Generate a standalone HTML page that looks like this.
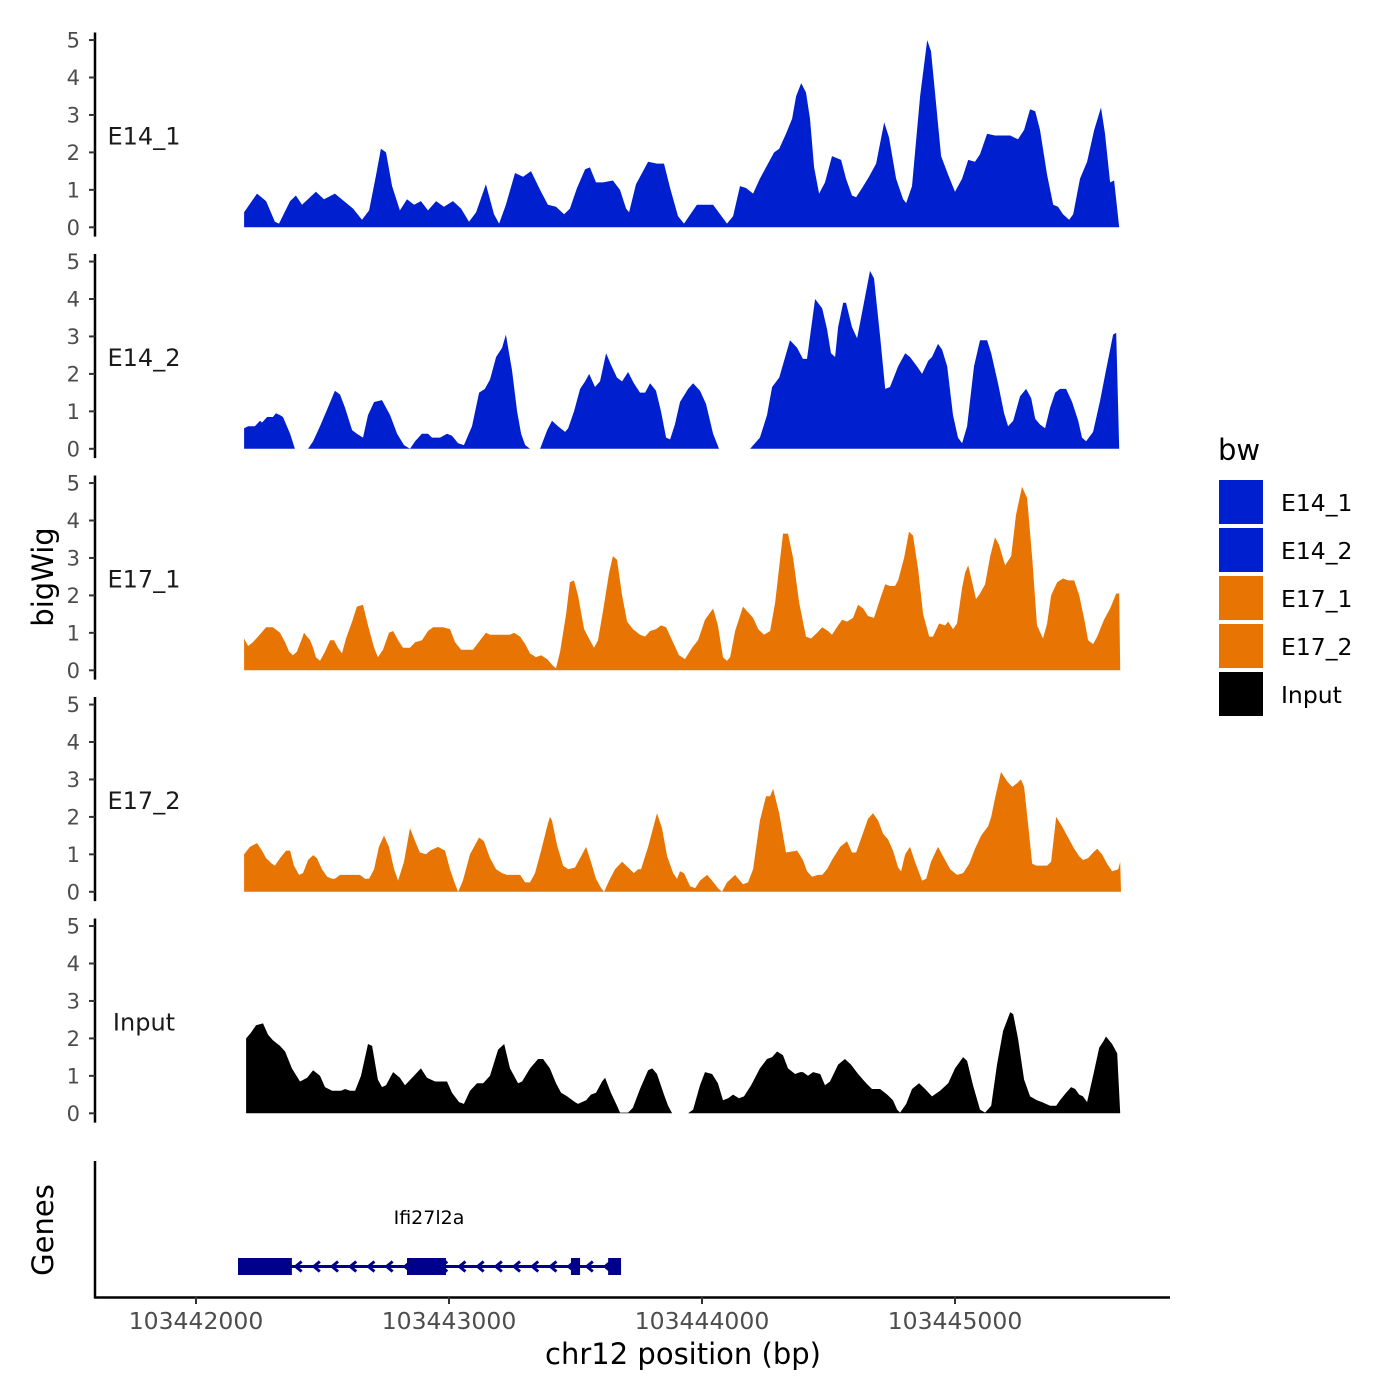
<!DOCTYPE html>
<html><head><meta charset="utf-8"><style>
html,body{margin:0;padding:0;background:#fff;}
svg{display:block;font-family:"DejaVu Sans","Liberation Sans",sans-serif;}
</style></head><body>
<svg id="chart" width="1400" height="1400" viewBox="0 0 1400 1400" xmlns="http://www.w3.org/2000/svg">
<rect x="0" y="0" width="1400" height="1400" fill="#fff"/>
<g id="tracks"></g>
<g id="genes"></g>
<g id="xaxis"></g>
<text x="0" y="0" transform="translate(53,577) rotate(-90)" text-anchor="middle" font-size="29" fill="#000">bigWig</text>
<text x="0" y="0" transform="translate(53,1230) rotate(-90)" text-anchor="middle" font-size="29" fill="#000">Genes</text>
<text x="683" y="1364" text-anchor="middle" font-size="29" fill="#000">chr12 position (bp)</text>
<g id="legend"></g>
</svg>
<script>
// ---- data ----
const chromStart = 103442000;
const xTicks = [103442000, 103443000, 103444000, 103445000];
const xTickLabels = ["103442000", "103443000", "103444000", "103445000"];
const yTicks = [0, 1, 2, 3, 4, 5];
const trackNames = ["E14_1", "E14_2", "E17_1", "E17_2", "Input"];
const legendNames = ["E14_1", "E14_2", "E17_1", "E17_2", "Input"];
const geneName = "Ifi27l2a";
const geneExonStarts = [166, 834, 1482, 1629];
const geneExonEnds = [379, 988, 1518, 1680];
const geneStart = 166;
const geneEnd = 1680;

// positions are bp offsets from chromStart; null values mark missing data
const e14_1Pos = [190,241,277,312,328,372,395,419,474,506,549,585,621,656,684,712,731,751,775,806,834,862,889,917,949,980,1016,1048,1079,1107,1146,1178,1198,1225,1261,1293,1324,1360,1391,1423,1455,1478,1506,1538,1557,1581,1609,1648,1676,1700,1712,1739,1787,1822,1850,1874,1905,1929,1980,2044,2099,2123,2150,2174,2202,2229,2257,2285,2305,2332,2356,2372,2392,2411,2427,2443,2463,2486,2514,2550,2569,2593,2609,2633,2660,2688,2720,2739,2767,2795,2807,2830,2862,2890,2905,2921,2945,2973,3000,3028,3052,3079,3099,3127,3158,3186,3218,3249,3273,3297,3317,3336,3364,3388,3407,3427,3451,3467,3494,3522,3550,3577,3593,3613,3629,3649];
const e14_1Val = [0.4,0.9,0.7,0.15,0.1,0.7,0.85,0.6,0.95,0.75,0.9,0.7,0.5,0.2,0.45,1.4,2.1,2.0,1.1,0.45,0.75,0.6,0.7,0.45,0.7,0.55,0.7,0.5,0.15,0.4,1.15,0.35,0.1,0.6,1.45,1.35,1.5,1.0,0.6,0.55,0.35,0.5,1.05,1.55,1.6,1.2,1.2,1.25,1.0,0.5,0.4,1.15,1.75,1.7,1.7,1.05,0.3,0.1,0.6,0.6,0.1,0.3,1.1,1.05,0.9,1.3,1.65,2.0,2.1,2.5,2.9,3.5,3.85,3.6,2.9,1.6,0.9,1.2,1.9,1.8,1.3,0.85,0.8,1.05,1.35,1.7,2.8,2.4,1.3,0.75,0.65,1.1,3.5,5.0,4.7,3.6,1.9,1.4,0.95,1.3,1.8,1.75,1.95,2.5,2.45,2.45,2.45,2.35,2.6,3.15,3.1,2.6,1.4,0.6,0.55,0.35,0.2,0.35,1.3,1.75,2.6,3.2,2.5,1.2,1.25,0];

const e14_2Pos = [190,206,233,253,261,281,304,316,332,344,372,391,417,443,463,490,518,549,569,589,617,636,660,680,704,735,767,795,822,846,866,893,917,933,965,992,1012,1036,1059,1091,1119,1142,1162,1186,1210,1225,1249,1269,1285,1301,1320,1340,1360,1388,1407,1431,1459,1471,1494,1518,1538,1554,1577,1597,1621,1640,1664,1684,1708,1731,1755,1775,1795,1818,1838,1858,1874,1893,1913,1945,1965,1992,2016,2044,2067,2130,2190,2229,2257,2277,2305,2348,2376,2399,2415,2447,2475,2494,2510,2526,2538,2558,2569,2593,2613,2637,2664,2680,2704,2724,2743,2775,2803,2822,2850,2870,2894,2909,2933,2949,2969,2992,3012,3028,3048,3075,3099,3127,3143,3170,3194,3210,3230,3257,3281,3301,3317,3336,3356,3376,3396,3415,3439,3463,3487,3502,3518,3546,3574,3597,3625,3637,3649];
const e14_2Val = [0.55,0.6,0.6,0.75,0.7,0.85,0.85,0.95,0.9,0.85,0.4,0,null,0,0.2,0.6,1.05,1.55,1.45,1.1,0.5,0.4,0.3,0.9,1.25,1.3,0.9,0.4,0.1,0.0,0.2,0.4,0.4,0.3,0.3,0.4,0.35,0.15,0.1,0.6,1.5,1.6,1.85,2.45,2.7,3.05,2.1,1.0,0.4,0.1,0,null,0,0.5,0.75,0.6,0.45,0.55,1.0,1.6,1.8,2.0,1.65,1.8,2.55,2.25,1.9,1.8,2.05,1.75,1.5,1.5,1.75,1.55,1.0,0.3,0.25,0.65,1.25,1.6,1.75,1.55,1.2,0.4,0,null,0,0.3,0.9,1.65,1.9,2.9,2.7,2.4,2.4,4.0,3.75,3.2,2.55,2.45,3.25,3.9,3.9,3.25,2.95,3.8,4.75,4.55,3.0,1.6,1.65,2.2,2.55,2.45,2.2,2.0,2.35,2.45,2.8,2.65,2.2,0.9,0.3,0.15,0.6,2.2,2.9,2.9,2.55,1.75,0.95,0.6,0.75,1.4,1.6,1.35,0.8,0.65,0.55,1.1,1.5,1.6,1.6,1.25,0.75,0.3,0.2,0.45,1.3,2.1,3.05,3.1,0];

const e17_1Pos = [190,206,225,245,277,304,332,352,368,383,399,419,427,451,463,474,490,510,530,546,561,577,593,617,636,660,680,704,719,739,763,779,799,818,846,866,893,917,937,957,976,1004,1024,1048,1075,1095,1123,1146,1162,1202,1241,1257,1281,1301,1320,1344,1364,1388,1407,1423,1439,1463,1478,1494,1510,1534,1557,1573,1589,1609,1633,1648,1664,1684,1704,1727,1755,1775,1795,1818,1838,1858,1882,1909,1933,1961,1984,2012,2044,2063,2083,2099,2111,2131,2162,2182,2202,2222,2245,2269,2289,2320,2340,2360,2384,2411,2431,2455,2475,2498,2514,2538,2554,2573,2597,2617,2637,2656,2680,2704,2724,2743,2763,2775,2799,2818,2834,2854,2874,2898,2913,2937,2961,2973,2992,3008,3028,3040,3052,3068,3083,3099,3119,3139,3158,3174,3198,3222,3241,3265,3285,3305,3324,3348,3364,3380,3404,3427,3447,3471,3491,3510,3526,3546,3562,3589,3613,3637,3649,3653];
const e17_1Val = [0.85,0.65,0.75,0.9,1.15,1.15,1.0,0.75,0.5,0.4,0.5,0.85,1.0,0.8,0.6,0.35,0.25,0.5,0.8,0.8,0.6,0.45,0.85,1.3,1.7,1.75,1.2,0.6,0.35,0.55,1.0,1.05,0.8,0.6,0.6,0.75,0.8,1.05,1.15,1.15,1.15,1.1,0.75,0.55,0.55,0.55,0.8,1.0,0.95,0.95,0.95,1.0,0.9,0.7,0.45,0.35,0.4,0.3,0.15,0.05,0.5,1.5,2.35,2.4,2.0,1.1,0.8,0.6,0.8,1.6,2.6,3.05,2.95,2.0,1.3,1.1,0.95,0.9,1.05,1.1,1.2,1.15,0.8,0.4,0.3,0.6,0.8,1.35,1.65,1.2,0.35,0.25,0.35,1.05,1.7,1.55,1.4,1.1,0.95,1.05,1.8,3.65,3.65,3.0,1.8,0.9,0.85,1.0,1.15,1.05,0.95,1.2,1.35,1.3,1.4,1.75,1.65,1.45,1.4,1.9,2.3,2.25,2.25,2.4,3.0,3.7,3.6,2.7,1.5,0.9,0.9,1.25,1.2,1.3,1.1,1.25,2.2,2.6,2.8,2.35,1.9,2.05,2.3,3.05,3.55,3.35,2.8,3.05,4.15,4.9,4.6,3.0,1.2,0.85,1.25,2.0,2.35,2.45,2.4,2.4,2.0,1.4,0.8,0.7,0.9,1.35,1.65,2.05,2.05,0];

const e17_2Pos = [190,213,241,261,277,300,312,332,356,372,387,407,423,443,463,478,498,518,538,549,569,589,648,668,684,704,723,743,763,783,799,822,846,866,885,909,925,957,984,1004,1024,1036,1055,1083,1119,1138,1162,1186,1210,1229,1281,1301,1320,1340,1364,1388,1399,1407,1427,1451,1471,1498,1522,1542,1561,1581,1601,1613,1633,1656,1684,1708,1731,1747,1759,1787,1822,1842,1862,1886,1901,1913,1929,1953,1973,1992,2020,2040,2063,2079,2099,2131,2162,2182,2202,2229,2253,2269,2281,2305,2332,2376,2399,2415,2435,2459,2475,2494,2514,2546,2573,2593,2609,2625,2656,2676,2696,2716,2735,2755,2775,2787,2803,2822,2842,2870,2886,2905,2933,2957,2981,3008,3032,3056,3079,3103,3131,3143,3158,3182,3206,3226,3245,3261,3273,3289,3305,3321,3364,3380,3400,3423,3447,3471,3491,3506,3526,3546,3562,3581,3601,3621,3645,3653,3656];
const e17_2Val = [1.0,1.2,1.3,1.1,0.9,0.75,0.7,0.9,1.1,1.1,0.7,0.45,0.5,0.85,0.98,0.9,0.6,0.4,0.35,0.35,0.45,0.45,0.45,0.35,0.35,0.6,1.2,1.5,1.2,0.6,0.3,0.8,1.7,1.35,1.05,1.0,1.1,1.2,1.1,0.6,0.2,0.0,0.3,1.0,1.45,1.35,0.9,0.6,0.5,0.45,0.45,0.25,0.25,0.5,1.1,1.75,2.0,1.9,1.25,0.7,0.6,0.65,0.95,1.2,0.8,0.35,0.1,0.0,0.3,0.6,0.8,0.65,0.5,0.6,0.6,1.2,2.1,1.7,0.95,0.5,0.35,0.55,0.5,0.15,0.1,0.3,0.45,0.3,0.1,0.0,0.25,0.45,0.2,0.25,0.6,1.9,2.55,2.55,2.75,2.1,1.05,1.1,0.85,0.55,0.4,0.45,0.45,0.6,0.85,1.2,1.35,1.05,1.05,1.35,1.95,2.1,1.9,1.55,1.4,1.1,0.65,0.55,1.0,1.2,0.8,0.3,0.35,0.8,1.2,0.9,0.6,0.45,0.5,0.75,1.15,1.5,1.75,2.0,2.5,3.2,2.95,2.8,2.9,3.0,2.8,1.8,0.75,0.7,0.7,0.8,2.0,1.75,1.45,1.15,0.95,0.85,0.9,1.05,1.15,1.0,0.75,0.55,0.6,0.8,0];

const inputPos = [198,217,237,265,285,304,332,352,379,411,439,463,490,510,538,573,589,609,629,652,680,696,719,735,751,779,806,826,854,889,913,945,992,1012,1040,1059,1083,1111,1135,1162,1194,1218,1241,1273,1289,1320,1352,1372,1399,1423,1443,1467,1498,1510,1542,1561,1581,1605,1617,1640,1664,1676,1708,1727,1755,1787,1803,1822,1850,1866,1882,1910,1945,1965,1992,2012,2040,2063,2083,2103,2123,2146,2166,2194,2229,2257,2277,2297,2320,2340,2368,2388,2399,2419,2439,2467,2486,2506,2538,2565,2589,2617,2649,2672,2704,2732,2755,2771,2783,2807,2830,2858,2882,2909,2941,2973,3000,3032,3048,3071,3099,3119,3143,3166,3190,3218,3230,3249,3273,3297,3324,3344,3376,3400,3415,3439,3459,3475,3491,3506,3522,3546,3570,3589,3597,3621,3641,3653];
const inputVal = [2.0,2.15,2.35,2.4,2.1,1.95,1.8,1.65,1.2,0.85,0.95,1.15,1.0,0.7,0.6,0.6,0.65,0.6,0.6,1.0,1.85,1.8,0.9,0.7,0.75,1.1,0.95,0.75,0.95,1.2,0.95,0.85,0.85,0.55,0.3,0.25,0.6,0.8,0.8,1.0,1.7,1.85,1.2,0.8,0.85,1.2,1.45,1.45,1.2,0.8,0.55,0.45,0.3,0.25,0.35,0.5,0.55,0.85,0.95,0.55,0.2,0.02,0.02,0.15,0.65,1.15,1.2,1.05,0.5,0.2,0.0,null,0.0,0.1,0.75,1.1,1.05,0.8,0.35,0.4,0.5,0.4,0.45,0.75,1.2,1.45,1.5,1.65,1.55,1.2,1.05,1.1,1.1,1.0,1.1,1.05,0.75,0.85,1.3,1.45,1.3,1.05,0.8,0.65,0.65,0.5,0.35,0.1,0.02,0.25,0.65,0.8,0.65,0.45,0.6,0.8,1.2,1.5,1.4,0.75,0.1,0.02,0.2,1.3,2.2,2.7,2.65,2.0,0.9,0.45,0.35,0.3,0.2,0.2,0.35,0.55,0.7,0.65,0.5,0.45,0.3,1.0,1.75,1.95,2.05,1.85,1.6,0];

const trackPositions = [e14_1Pos, e14_2Pos, e17_1Pos, e17_2Pos, inputPos];
const trackValues = [e14_1Val, e14_2Val, e17_1Val, e17_2Val, inputVal];
const trackColors = ["#0020CF", "#0020CF", "#E87503", "#E87503", "#000000"];

// ---- scales ----
const NS = "http://www.w3.org/2000/svg";
const X0 = 196, PX_PER_BP = 253 / 1000;
function xScale(bp) { return X0 + (bp - chromStart) * PX_PER_BP; }
function xOff(off) { return xScale(chromStart + off); }
const ZERO0 = 227.3, TRACK_STEP = 221.5, UNIT = 37.45;
function yScale(track, v) { return ZERO0 + track * TRACK_STEP - v * UNIT; }
function mk(tag, attrs, parent) {
  const el = document.createElementNS(NS, tag);
  for (const k in attrs) el.setAttribute(k, attrs[k]);
  parent.appendChild(el);
  return el;
}

// ---- tracks ----
const gT = document.getElementById("tracks");
trackNames.forEach((name, t) => {
  const g = mk("g", {}, gT);
  
  
  const pos = trackPositions[t], val = trackValues[t];
  const base = yScale(t, 0);
  let segs = [], cur = [];
  for (let i = 0; i < pos.length; i++) {
    if (val[i] === null) { if (cur.length) segs.push(cur); cur = []; }
    else cur.push([xOff(pos[i]), yScale(t, val[i])]);
  }
  if (cur.length) segs.push(cur);
  segs.forEach(s => {
    let d = "M" + s[0][0].toFixed(1) + "," + base.toFixed(1);
    s.forEach(p => { d += "L" + p[0].toFixed(1) + "," + p[1].toFixed(1); });
    d += "L" + s[s.length - 1][0].toFixed(1) + "," + base.toFixed(1) + "Z";
    const area = mk("path", { d: d, fill: trackColors[t] }, g);
    
    
  });
  const top = yScale(t, 5.2), bot = yScale(t, -0.25);
  const ax = mk("line", { x1: 95, x2: 95, y1: top, y2: bot, stroke: "#000", "stroke-width": 2.5 }, g);
  
  
  yTicks.forEach(v => {
    const y = yScale(t, v);
    const tk = mk("line", { x1: 89, x2: 95, y1: y, y2: y, stroke: "#333", "stroke-width": 2 }, g);
    
    
    const lb = mk("text", { x: 80, y: y + 7.5, "text-anchor": "end", "font-size": 21, fill: "#4d4d4d" }, g);
    lb.textContent = String(v);
    
    
  });
  const tl = mk("text", { x: 144, y: yScale(t, 2) - 8, "text-anchor": "middle", "font-size": 24, fill: "#1a1a1a" }, g);
  tl.textContent = name;
  
  
});

// ---- genes ----
const gG = document.getElementById("genes");
const gax = mk("line", { x1: 95, x2: 95, y1: 1161, y2: 1298, stroke: "#000", "stroke-width": 2.5 }, gG);


const gy = 1266.5;
const intron = mk("line", { x1: xOff(geneStart), x2: xOff(geneEnd), y1: gy, y2: gy, stroke: "#00008B", "stroke-width": 3 }, gG);


for (let x = xOff(geneEnd) - 14; x > xOff(geneStart) + 4; x -= 18.2) {
  const ch = mk("path", { d: "M" + (x + 4) + "," + (gy - 5) + "L" + (x - 2) + "," + gy + "L" + (x + 4) + "," + (gy + 5), fill: "none", stroke: "#00008B", "stroke-width": 3 }, gG);
  
  
}
geneExonStarts.forEach((s, i) => {
  const x1 = xOff(s), x2 = xOff(geneExonEnds[i]);
  const r = mk("rect", { x: x1, y: 1258, width: x2 - x1, height: 17, fill: "#00008B" }, gG);
  
  
});
const gl = mk("text", { x: 429, y: 1224, "text-anchor": "middle", "font-size": 19, fill: "#000" }, gG);
gl.textContent = geneName;



// ---- x axis ----
const gX = document.getElementById("xaxis");
const xl = mk("line", { x1: 94, x2: 1170, y1: 1297.5, y2: 1297.5, stroke: "#000", "stroke-width": 2.5 }, gX);


xTicks.forEach((v, i) => {
  const x = xScale(v);
  const tk = mk("line", { x1: x, x2: x, y1: 1297, y2: 1304, stroke: "#333", "stroke-width": 2 }, gX);
  
  
  const lb = mk("text", { x: x, y: 1329, "text-anchor": "middle", "font-size": 23.5, fill: "#4d4d4d" }, gX);
  lb.textContent = xTickLabels[i];
  
  
});

// ---- legend ----
const gL = document.getElementById("legend");
const lt = mk("text", { x: 1218, y: 460, "font-size": 29, fill: "#000" }, gL);
lt.textContent = "bw";


legendNames.forEach((n, i) => {
  const y = 480 + i * 48;
  const kg = mk("g", {}, gL);
  
  
  mk("rect", { x: 1219, y: y, width: 44, height: 44, fill: trackColors[i] }, kg);
  const tx = mk("text", { x: 1281, y: y + 31, "font-size": 23.5, fill: "#000" }, kg);
  tx.textContent = n;
});
</script>
</body></html>
